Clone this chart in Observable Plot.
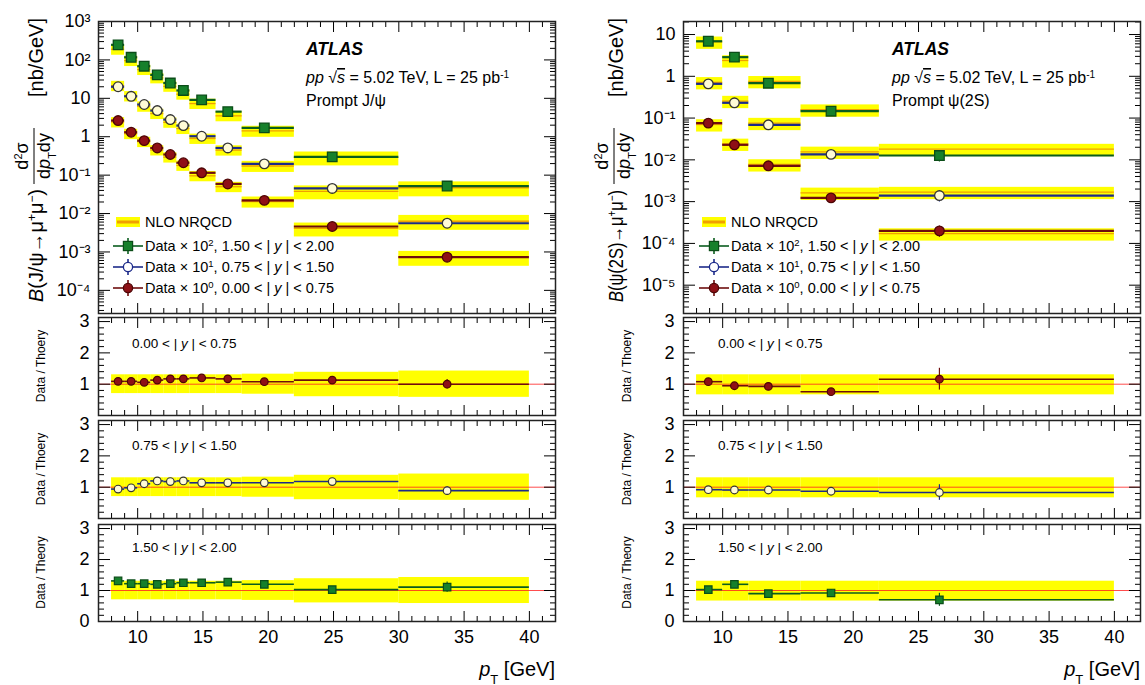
<!DOCTYPE html>
<html>
<head>
<meta charset="utf-8">
<script src="https://cdn.jsdelivr.net/npm/d3@7"></script>
<script src="https://cdn.jsdelivr.net/npm/@observablehq/plot@0.6"></script>
<style>
html,body{margin:0;padding:0;background:#fff;}
#root{position:relative;width:1145px;height:685px;overflow:hidden;font-family:"Liberation Sans",Arial,Helvetica,sans-serif;}
.pane{position:absolute;}
.pane svg{overflow:visible;display:block;}
#overlay{position:absolute;left:0;top:0;pointer-events:none;}
</style>
</head>
<body>
<div id="root"></div>
<script>
// ================= DATA =================
const xMajorTicks = [10, 15, 20, 25, 30, 35, 40];
const rapidityLabels = ["0.00", "0.75", "1.50", "2.00"];

// ---- Prompt J/psi ----
const jpsiBinLo = [8, 9, 10, 11, 12, 13, 14, 16, 18, 22, 30];
const jpsiBinHi = [9, 10, 11, 12, 13, 14, 16, 18, 22, 30, 40];
const jpsiMeanPt = [8.5, 9.5, 10.5, 11.5, 12.5, 13.5, 14.9, 16.9, 19.7, 24.9, 33.7];
// plotted cross sections (already multiplied by 10^0, 10^1, 10^2)
const jpsiData0 = [2.64, 1.31, 0.79, 0.51, 0.345, 0.21, 0.115, 0.059, 0.022, 0.0046, 0.00073];
const jpsiData1 = [20, 11.3, 6.9, 4.8, 2.8, 1.95, 1.03, 0.51, 0.197, 0.045, 0.0056];
const jpsiData2 = [247, 117, 68.5, 40.7, 25, 16, 9.1, 4.5, 1.7, 0.30, 0.052];
const jpsiTheory0 = [2.42, 1.20, 0.745, 0.451, 0.295, 0.179, 0.096, 0.050, 0.0204, 0.0041, 0.00073];
const jpsiTheory1 = [21.3, 11.5, 6.2, 4.0, 2.37, 1.63, 0.90, 0.447, 0.173, 0.038, 0.0063];
const jpsiTheory2 = [189, 96, 56, 34, 20.5, 12.8, 7.3, 3.5, 1.42, 0.29, 0.047];
const jpsiRatio0 = [1.09, 1.09, 1.06, 1.13, 1.17, 1.17, 1.20, 1.17, 1.08, 1.13, 1.00];
const jpsiRatio1 = [0.94, 0.98, 1.11, 1.20, 1.18, 1.20, 1.14, 1.14, 1.14, 1.18, 0.89];
const jpsiRatio2 = [1.31, 1.22, 1.22, 1.20, 1.22, 1.25, 1.25, 1.27, 1.20, 1.03, 1.11];
const jpsiBandLo = [0.70, 0.70, 0.70, 0.70, 0.70, 0.70, 0.70, 0.70, 0.68, 0.60, 0.58];
const jpsiBandHi = [1.30, 1.30, 1.30, 1.30, 1.30, 1.30, 1.30, 1.30, 1.32, 1.38, 1.42];
const jpsiRelErr = [0.05, 0.04, 0.04, 0.04, 0.04, 0.04, 0.04, 0.05, 0.06, 0.08, 0.15];

// ---- Prompt psi(2S) ----
const psiBinLo = [8, 10, 12, 16, 22];
const psiBinHi = [10, 12, 16, 22, 40];
const psiMeanPt = [8.9, 10.9, 13.5, 18.3, 26.6];
const psiData0 = [0.0758, 0.0229, 0.0072, 0.00123, 0.0002];
const psiData1 = [0.66, 0.232, 0.069, 0.0135, 0.0014];
const psiData2 = [6.9, 2.87, 0.684, 0.146, 0.0127];
const psiTheory0 = [0.0702, 0.0241, 0.00774, 0.00162, 0.000172];
const psiTheory1 = [0.717, 0.255, 0.0758, 0.0155, 0.00169];
const psiTheory2 = [6.7, 2.39, 0.76, 0.159, 0.0181];
const psiRatio0 = [1.08, 0.95, 0.93, 0.76, 1.16];
const psiRatio1 = [0.92, 0.91, 0.91, 0.87, 0.83];
const psiRatio2 = [1.03, 1.20, 0.90, 0.92, 0.70];
const psiBandLo = [0.66, 0.66, 0.66, 0.66, 0.66];
const psiBandHi = [1.30, 1.30, 1.30, 1.30, 1.30];
const psiRelErr = [0.08, 0.06, 0.06, 0.12, 0.30];

// ================= STYLE =================
const FONT = '"Liberation Sans", Arial, Helvetica, sans-serif';
const styles = [
  {line: "#6e0d0d", fill: "#8e1016", stroke: "#4d0505", symbol: "circle", r: 4.8, rr: 3.8},
  {line: "#1c2a8a", fill: "#fffbd6", stroke: "#333333", symbol: "circle", r: 4.8, rr: 3.8},
  {line: "#0b5d1e", fill: "#16802b", stroke: "#0b4d18", symbol: "square", r: 5.4, rr: 4.2}
];
const root = document.getElementById("root");
function addPane(node, left, top) {
  const d = document.createElement("div");
  d.className = "pane"; d.style.left = left + "px"; d.style.top = top + "px";
  d.appendChild(node); root.appendChild(d);
}
const supMap = {"-": "⁻", "0": "⁰", "1": "¹", "2": "²", "3": "³", "4": "⁴", "5": "⁵", "6": "⁶", "7": "⁷", "8": "⁸", "9": "⁹"};
function powFmt(v) {
  const e = Math.round(Math.log10(v));
  if (e === 0) return "1";
  if (e === 1) return "10";
  return "10" + String(e).split("").map(c => supMap[c]).join("");
}
function logMinor(lo, hi) {
  const out = [];
  for (let e = Math.floor(Math.log10(lo)); e <= Math.ceil(Math.log10(hi)); e++)
    for (let m = 2; m <= 9; m++) { const v = m * Math.pow(10, e); if (v > lo && v < hi) out.push(v); }
  return out;
}
function logMajor(lo, hi) {
  const out = [];
  for (let e = Math.ceil(Math.log10(lo)); e <= Math.floor(Math.log10(hi) + 1e-9); e++) out.push(Math.pow(10, e));
  return out;
}
const xMinorTicks = d3.range(7, 43).filter(v => v % 5 !== 0);
const blank = () => "";

function xTickMarks() {
  return [
    Plot.axisX({anchor: "bottom", ticks: xMajorTicks, tickSize: -10, tickFormat: blank, label: null, strokeWidth: 1}),
    Plot.axisX({anchor: "bottom", ticks: xMinorTicks, tickSize: -5, tickFormat: blank, label: null, strokeWidth: 1}),
    Plot.axisX({anchor: "top", ticks: xMajorTicks, tickSize: -10, tickFormat: blank, label: null, strokeWidth: 1}),
    Plot.axisX({anchor: "top", ticks: xMinorTicks, tickSize: -5, tickFormat: blank, label: null, strokeWidth: 1})
  ];
}

function topPlot(cfg) {
  const marks = [];
  const sets = cfg.data.map((data, k) => cfg.lo.map((lo, i) => ({
    lo, hi: cfg.hi[i], pt: cfg.mean[i],
    data: data[i], theory: cfg.theory[k][i],
    bLo: cfg.theory[k][i] * cfg.bandLo[i], bHi: cfg.theory[k][i] * cfg.bandHi[i],
    eLo: data[i] * (1 - cfg.err[i]), eHi: data[i] * (1 + cfg.err[i])
  })));
  sets.forEach(rows => marks.push(Plot.rect(rows, {x1: "lo", x2: "hi", y1: "bLo", y2: "bHi", fill: "#ffff00"})));
  sets.forEach(rows => marks.push(Plot.ruleY(rows, {x1: "lo", x2: "hi", y: "theory", stroke: "#f0a000", strokeWidth: 1.3})));
  sets.forEach((rows, k) => {
    const s = styles[k];
    marks.push(Plot.ruleY(rows, {x1: "lo", x2: "hi", y: "data", stroke: s.line, strokeWidth: 2.2}));
    marks.push(Plot.ruleX(rows, {x: "pt", y1: "eLo", y2: "eHi", stroke: s.line, strokeWidth: 1.2}));
    marks.push(Plot.dot(rows, {x: "pt", y: "data", symbol: s.symbol, r: s.r, fill: s.fill, stroke: s.stroke, strokeWidth: 1.3}));
  });
  const yMaj = logMajor(cfg.yDomain[0], cfg.yDomain[1]);
  const yMin = logMinor(cfg.yDomain[0], cfg.yDomain[1]);
  marks.push(
    Plot.axisY({anchor: "left", ticks: yMaj, tickSize: 0, tickPadding: 8, tickFormat: powFmt, label: null}),
    Plot.axisY({anchor: "left", ticks: yMaj, tickSize: -12, tickFormat: blank, label: null}),
    Plot.axisY({anchor: "left", ticks: yMin, tickSize: -6, tickFormat: blank, label: null}),
    Plot.axisY({anchor: "right", ticks: yMaj, tickSize: -12, tickFormat: blank, label: null}),
    Plot.axisY({anchor: "right", ticks: yMin, tickSize: -6, tickFormat: blank, label: null}),
    ...xTickMarks(),
    Plot.frame({stroke: "#222", strokeWidth: 1.5})
  );
  return Plot.plot({
    width: cfg.width, height: 315,
    marginLeft: cfg.ml, marginRight: cfg.mr, marginTop: 21, marginBottom: 2,
    x: {domain: [7, 42]},
    y: {type: "log", domain: cfg.yDomain},
    style: {fontFamily: FONT, fontSize: "18px", background: "transparent", color: "#000", overflow: "visible"},
    marks
  });
}

function ratioPlot(cfg) {
  const s = styles[cfg.k];
  const rows = cfg.lo.map((lo, i) => ({
    lo, hi: cfg.hi[i], pt: cfg.mean[i], r: cfg.ratio[i],
    bLo: cfg.bandLo[i], bHi: cfg.bandHi[i],
    eLo: cfg.ratio[i] * (1 - cfg.err[i]), eHi: cfg.ratio[i] * (1 + cfg.err[i])
  }));
  const yMajLabels = cfg.bottom ? [0, 1, 2, 3] : [1, 2, 3];
  const yMinor = d3.range(0, 3.13, 0.2).filter(v => Math.abs(v - Math.round(v)) > 0.01);
  const marks = [
    Plot.rect(rows, {x1: "lo", x2: "hi", y1: "bLo", y2: "bHi", fill: "#ffff00"}),
    Plot.ruleY([1], {stroke: "#ff2020", strokeWidth: 0.8}),
    Plot.ruleY(rows, {x1: "lo", x2: "hi", y: "r", stroke: s.line, strokeWidth: 1.6}),
    Plot.ruleX(rows, {x: "pt", y1: "eLo", y2: "eHi", stroke: s.line, strokeWidth: 1.2}),
    Plot.dot(rows, {x: "pt", y: "r", symbol: s.symbol, r: s.rr, fill: s.fill, stroke: s.stroke, strokeWidth: 1.2}),
    Plot.axisY({anchor: "left", ticks: yMajLabels, tickSize: 0, tickPadding: 9, tickFormat: d3.format("d"), label: null}),
    Plot.axisY({anchor: "left", ticks: [1, 2, 3], tickSize: -12, tickFormat: blank, label: null}),
    Plot.axisY({anchor: "left", ticks: yMinor, tickSize: -6, tickFormat: blank, label: null}),
    Plot.axisY({anchor: "right", ticks: [1, 2, 3], tickSize: -12, tickFormat: blank, label: null}),
    Plot.axisY({anchor: "right", ticks: yMinor, tickSize: -6, tickFormat: blank, label: null}),
    ...xTickMarks()
  ];
  if (cfg.bottom) marks.push(Plot.axisX({anchor: "bottom", ticks: xMajorTicks, tickSize: 0, tickPadding: 9, label: null}));
  marks.push(Plot.frame({stroke: "#222", strokeWidth: 1.5}));
  const ph = cfg.fb - cfg.ft;
  return Plot.plot({
    width: cfg.width, height: ph + 10 + (cfg.bottom ? 40 : 2),
    marginLeft: cfg.ml, marginRight: cfg.mr, marginTop: 10, marginBottom: cfg.bottom ? 40 : 2,
    x: {domain: [7, 42]},
    y: {domain: [0, 3.13]},
    style: {fontFamily: FONT, fontSize: "18px", background: "transparent", color: "#000", overflow: "visible"},
    marks
  });
}

// ============ BUILD PANELS ============
const panelFrames = [[317, 415], [420, 518], [524, 621]];
const left = {x: 0, width: 570, ml: 98, mr: 15};
const right = {x: 580, width: 565, ml: 103, mr: 5};

addPane(topPlot({
  width: left.width, ml: left.ml, mr: left.mr,
  lo: jpsiBinLo, hi: jpsiBinHi, mean: jpsiMeanPt,
  data: [jpsiData0, jpsiData1, jpsiData2], theory: [jpsiTheory0, jpsiTheory1, jpsiTheory2],
  bandLo: jpsiBandLo, bandHi: jpsiBandHi, err: jpsiRelErr,
  yDomain: [2.5e-5, 1000]
}), left.x, 0);

addPane(topPlot({
  width: right.width, ml: right.ml, mr: right.mr,
  lo: psiBinLo, hi: psiBinHi, mean: psiMeanPt,
  data: [psiData0, psiData1, psiData2], theory: [psiTheory0, psiTheory1, psiTheory2],
  bandLo: psiBandLo, bandHi: psiBandHi, err: psiRelErr,
  yDomain: [2.1e-6, 20.5]
}), right.x, 0);

const jpsiRatios = [jpsiRatio0, jpsiRatio1, jpsiRatio2];
const psiRatios = [psiRatio0, psiRatio1, psiRatio2];
panelFrames.forEach(([ft, fb], k) => {
  addPane(ratioPlot({
    k, ft, fb, bottom: k === 2, width: left.width, ml: left.ml, mr: left.mr,
    lo: jpsiBinLo, hi: jpsiBinHi, mean: jpsiMeanPt, ratio: jpsiRatios[k],
    bandLo: jpsiBandLo, bandHi: jpsiBandHi, err: jpsiRelErr
  }), left.x, ft - 10);
  addPane(ratioPlot({
    k, ft, fb, bottom: k === 2, width: right.width, ml: right.ml, mr: right.mr,
    lo: psiBinLo, hi: psiBinHi, mean: psiMeanPt, ratio: psiRatios[k],
    bandLo: psiBandLo, bandHi: psiBandHi, err: psiRelErr
  }), right.x, ft - 10);
});

// ============ TEXT OVERLAY ============
const sup = (t, fs = 10) => `<tspan baseline-shift="super" font-size="${fs}">${t}</tspan>`;
const sub = (t, fs = 12) => `<tspan baseline-shift="sub" font-size="${fs}">${t}</tspan>`;
const it = t => `<tspan font-style="italic">${t}</tspan>`;
let ov = "";

function header(x, particle) {
  ov += `<text x="${x}" y="55" font-size="17.5" font-weight="bold" font-style="italic">ATLAS</text>`;
  ov += `<text x="${x}" y="83" font-size="16">${it("pp")}  √<tspan font-style="italic" text-decoration="overline">s</tspan> = 5.02 TeV, L = 25 pb${sup("-1", 10)}</text>`;
  ov += `<text x="${x}" y="106" font-size="16">Prompt ${particle}</text>`;
}
header(306, "J/ψ");
header(892, "ψ(2S)");

function legendBlock(cx, tx) {
  ov += `<rect x="${cx - 12}" y="217" width="24" height="10" fill="#ffff00"/>`;
  ov += `<line x1="${cx - 11}" x2="${cx + 11}" y1="222" y2="222" stroke="#f0a000" stroke-width="3"/>`;
  ov += `<text x="${tx}" y="227" font-size="14.5">NLO NRQCD</text>`;
  const rows = [
    {y: 246, k: 2, p: "2", a: rapidityLabels[2], b: rapidityLabels[3]},
    {y: 267, k: 1, p: "1", a: rapidityLabels[1], b: rapidityLabels[2]},
    {y: 288, k: 0, p: "0", a: rapidityLabels[0], b: rapidityLabels[1]}
  ];
  rows.forEach(r => {
    const s = styles[r.k];
    ov += `<line x1="${cx - 15}" x2="${cx + 15}" y1="${r.y}" y2="${r.y}" stroke="${s.line}" stroke-width="1.6"/>`;
    ov += `<line x1="${cx}" x2="${cx}" y1="${r.y - 8}" y2="${r.y + 8}" stroke="${s.line}" stroke-width="1.6"/>`;
    if (s.symbol === "square") ov += `<rect x="${cx - 4.6}" y="${r.y - 4.6}" width="9.2" height="9.2" fill="${s.fill}" stroke="${s.stroke}" stroke-width="1.2"/>`;
    else ov += `<circle cx="${cx}" cy="${r.y}" r="4.6" fill="${r.k === 1 ? "#ffffff" : s.fill}" stroke="${r.k === 1 ? "#1c2a8a" : s.stroke}" stroke-width="1.3"/>`;
    ov += `<text x="${tx}" y="${r.y + 5}" font-size="14.5">Data × 10${sup(r.p, 9.5)}, ${r.a} &lt; | ${it("y")} | &lt; ${r.b}</text>`;
  });
}
legendBlock(128, 145);
legendBlock(714, 731);

function yTitle(cx, particle, mainLen) {
  ov += `<g transform="translate(${cx},160) rotate(-90)" font-size="20">`;
  ov += `<text x="-142" y="6" textLength="${mainLen}" lengthAdjust="spacingAndGlyphs">${it("B")}(${particle}→μ${sup("+", 12)}μ${sup("−", 12)})</text>`;
  ov += `<text x="4" y="-9" text-anchor="middle" font-size="18">d${sup("2", 11)}σ</text>`;
  ov += `<line x1="-24" x2="32" y1="-3" y2="-3" stroke="#000" stroke-width="1"/>`;
  ov += `<text x="4" y="13" text-anchor="middle" font-size="18">d${it("p")}${sub("T", 11)}dy</text>`;
  ov += `<text x="142" y="6" text-anchor="end">[nb/GeV]</text>`;
  ov += `</g>`;
}
yTitle(37, "J/ψ", 113);
yTitle(617, "ψ(2S)", 112);

const ratioLabelY = [348, 450, 552];
const ratioNames = ["Data / Thoery", "Data / Thoery", "Data / Theory"];
panelFrames.forEach(([ft, fb], k) => {
  const yc = (ft + fb) / 2;
  const txt = `${rapidityLabels[k]} &lt; | ${it("y")} | &lt; ${rapidityLabels[k + 1]}`;
  ov += `<text x="132" y="${ratioLabelY[k]}" font-size="13.5">${txt}</text>`;
  ov += `<text x="718" y="${ratioLabelY[k]}" font-size="13.5">${txt}</text>`;
  ov += `<text transform="translate(45,${yc}) rotate(-90)" text-anchor="middle" font-size="12">${ratioNames[k]}</text>`;
  ov += `<text transform="translate(631,${yc}) rotate(-90)" text-anchor="middle" font-size="12">${ratioNames[k]}</text>`;
});

ov += `<text x="555" y="676" text-anchor="end" font-size="20">${it("p")}${sub("T", 13)} [GeV]</text>`;
ov += `<text x="1140" y="676" text-anchor="end" font-size="20">${it("p")}${sub("T", 13)} [GeV]</text>`;

root.insertAdjacentHTML("beforeend",
  `<svg id="overlay" width="1145" height="685" xmlns="http://www.w3.org/2000/svg" font-family='${FONT}' fill="#000">${ov}</svg>`);
</script>
</body>
</html>
